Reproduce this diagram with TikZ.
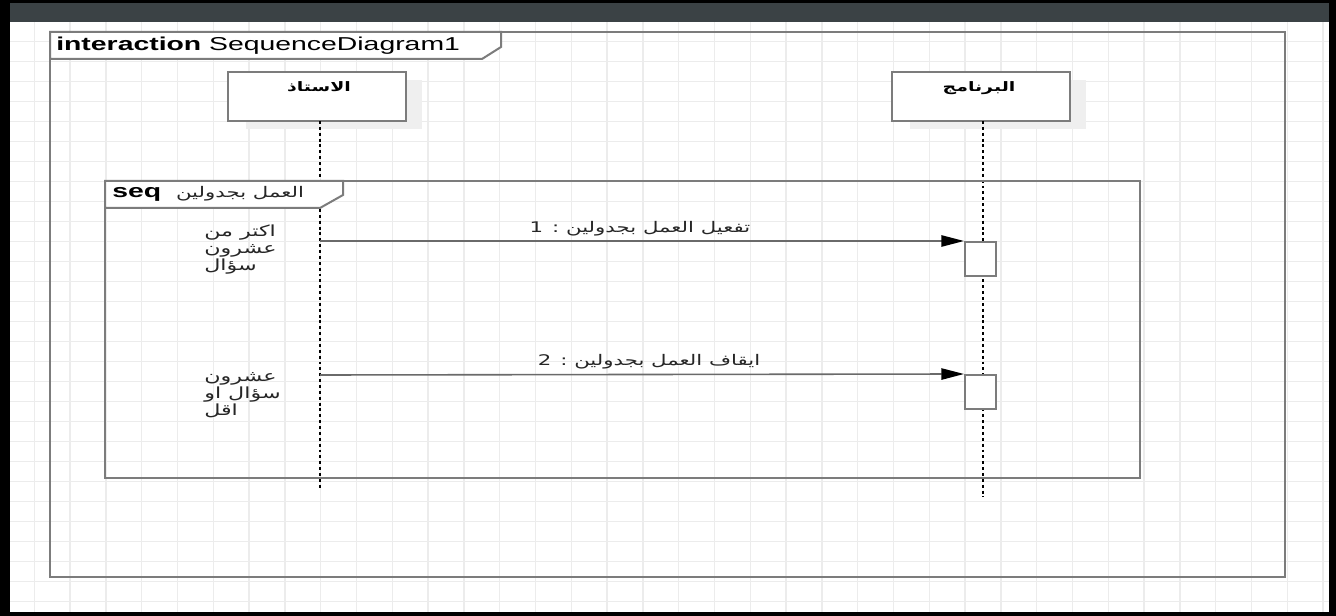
\documentclass[tikz,border=0pt]{standalone}
\usepackage{fontspec}
\setmainfont{Liberation Sans}[FakeStretch=1.52]
\newfontfamily\arfont[Script=Arabic,FakeStretch=1.45]{DejaVu Sans}
\TeXXeTstate=1
\usetikzlibrary{arrows.meta}
\definecolor{gridc}{HTML}{ECECEC}
\definecolor{barc}{HTML}{3B4245}
\definecolor{framec}{HTML}{7C7C7C}
\definecolor{msgc}{HTML}{6A6A6A}
\definecolor{shadowc}{HTML}{EFEFEF}
\newcommand{\AR}[1]{{\arfont\beginR #1\endR}}
\begin{document}
\begin{tikzpicture}[x=0.75pt,y=-0.75pt,
  framel/.style={draw=framec,line width=1.5pt,line join=miter},
  headbox/.style={draw=framec,fill=white,line width=1.5pt,minimum width=133.5pt,minimum height=36.75pt,inner sep=0pt},
  actbox/.style={draw=framec,fill=white,line width=1.5pt,minimum width=23.25pt,minimum height=25.5pt,inner sep=0pt},
  lifel/.style={draw=black,line width=1.5pt,dash pattern=on 2.2pt off 2.2pt},
  msg/.style={draw=msgc,line width=1.2pt,-{Triangle[length=17pt,width=8.5pt,fill=black,color=black]}},
  tabtxt/.style={inner sep=0pt,font=\fontsize{14}{16}\selectfont},
  headtxt/.style={inner sep=0pt,font=\fontsize{9.8}{11}\selectfont\bfseries},
  msgtxt/.style={inner sep=0pt,text=black!85,font=\fontsize{11}{12}\selectfont},
  notetxt/.style={inner sep=0pt,align=left,text=black!85,font=\fontsize{11.5}{12.75}\selectfont}]
\useasboundingbox (0,0) rectangle (1336,616);
% background and window frame
\fill[white] (0,0) rectangle (1336,616);
\foreach \k in {0,...,36} \draw[gridc,line width=1.1pt] ({34.3+35.8*\k},22) -- ({34.3+35.8*\k},612);
\foreach \k in {2,...,30} \draw[gridc,line width=1.1pt] (10,{20*\k+1.5}) -- (1329,{20*\k+1.5});
\fill[black] (0,0) rectangle (1336,3);
\fill[black] (0,0) rectangle (10,616);
\fill[black] (1329,0) rectangle (1336,616);
\fill[black] (0,612) rectangle (1336,616);
\fill[barc] (10,3) rectangle (1329,22);
% interaction frame
\draw[framel] (50,32) rectangle (1285,577);
\draw[framel,fill=white] (50,32) -- (501,32) -- (501,47) -- (482,59) -- (50,59) -- cycle;
\node[tabtxt,anchor=west] (title) at (56,46) {\textbf{interaction} SequenceDiagram1};
% lifeline heads
\fill[shadowc] (246,80) rectangle (422,129);
\fill[shadowc] (910,80) rectangle (1086,129);
\node[headbox] (h1) at (317,96.5) {};
\node[headbox] (h2) at (981,96.5) {};
\node[headtxt] (h1l) at (319,87) {\AR{الاستاذ}};
\node[headtxt] (h2l) at (979,88) {\AR{البرنامج}};
\coordinate (l1top) at (320,121);
\coordinate (l1end) at (320,488);
\coordinate (l2top) at (983,121);
\coordinate (l2end) at (983,497);
\draw[lifel] (l1top) -- (l1end);
\draw[lifel] (l2top) -- (l2end);
% seq fragment
\draw[framel] (105,181) rectangle (1140,478);
\draw[framel,fill=white] (105,181) -- (343,181) -- (343,195) -- (320,208) -- (105,208) -- cycle;
\node[tabtxt,anchor=west] (seq) at (112,194.5) {\textbf{seq}};
\node[inner sep=0pt,text=black!85,font=\fontsize{11}{12}\selectfont] (seqname) at (240,194) {\AR{العمل بجدولين}};
% activations
\node[actbox] (a1) at (980.5,259) {};
\node[actbox] (a2) at (980.5,392) {};
% messages
\coordinate (m1s) at (320,241);
\coordinate (m2s) at (320,375);
\draw[msg] (m1s) -- (a1.north west);
\draw[msg] (m2s) -- (a2.north west);
\node[msgtxt] (m1l) at (640,229) {\AR{تفعيل العمل بجدولين : 1}};
\node[msgtxt] (m2l) at (649,362) {\AR{ايقاف العمل بجدولين : 2}};
% notes
\node[notetxt,anchor=west] (n1) at (204,250) {\AR{اكتر من}\\\AR{عشرون}\\\AR{سؤال}};
\node[notetxt,anchor=west] (n2) at (204,395) {\AR{عشرون}\\\AR{سؤال او}\\\AR{اقل}};
\end{tikzpicture}
\end{document}
